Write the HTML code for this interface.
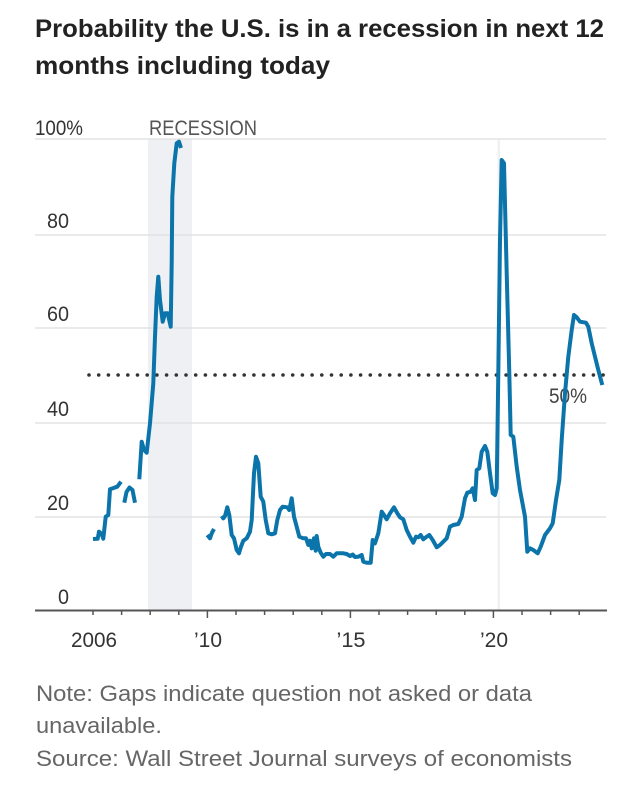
<!DOCTYPE html>
<html>
<head>
<meta charset="utf-8">
<style>
  html,body{margin:0;padding:0;background:#fff;}
  svg{display:block;}
  text{font-family:"Liberation Sans", "DejaVu Sans", sans-serif;}
</style>
</head>
<body>
<svg width="640" height="790" viewBox="0 0 640 790" xmlns="http://www.w3.org/2000/svg">
  <rect x="0" y="0" width="640" height="790" fill="#fff"/>

  <!-- Title -->
  <text x="35" y="37" font-size="25" font-weight="bold" fill="#222" textLength="569" lengthAdjust="spacingAndGlyphs">Probability the U.S. is in a recession in next 12</text>
  <text x="35" y="74" font-size="25" font-weight="bold" fill="#222" textLength="295" lengthAdjust="spacingAndGlyphs">months including today</text>

  <!-- Recession shading -->
  <rect x="148" y="139" width="44" height="471" fill="#eef0f4"/>
  <rect x="497.5" y="139" width="2.5" height="471" fill="#eef0f4"/>

  <!-- Gridlines -->
  <g stroke="#dedede" stroke-width="1.2">
    <line x1="35" y1="139" x2="606" y2="139"/>
    <line x1="35" y1="235" x2="606" y2="235"/>
    <line x1="35" y1="328" x2="606" y2="328"/>
    <line x1="35" y1="423" x2="606" y2="423"/>
    <line x1="35" y1="517" x2="606" y2="517"/>
  </g>

  <!-- Y labels -->
  <g font-size="21" fill="#333">
    <text x="35" y="135" textLength="48" lengthAdjust="spacingAndGlyphs">100%</text>
    <text x="69" y="228" text-anchor="end" textLength="22" lengthAdjust="spacingAndGlyphs">80</text>
    <text x="69" y="321" text-anchor="end" textLength="22" lengthAdjust="spacingAndGlyphs">60</text>
    <text x="69" y="416" text-anchor="end" textLength="22" lengthAdjust="spacingAndGlyphs">40</text>
    <text x="69" y="510" text-anchor="end" textLength="22" lengthAdjust="spacingAndGlyphs">20</text>
    <text x="69" y="604" text-anchor="end" textLength="11" lengthAdjust="spacingAndGlyphs">0</text>
  </g>

  <text x="149" y="135" font-size="21" fill="#555" textLength="108" lengthAdjust="spacingAndGlyphs">RECESSION</text>

  <!-- 50% dotted line -->
  <line x1="89" y1="375" x2="607" y2="375" stroke="#333" stroke-width="3.6" stroke-linecap="round" stroke-dasharray="0 9.7"/>
  <text x="549" y="403" font-size="21" fill="#444" textLength="38" lengthAdjust="spacingAndGlyphs">50%</text>

  <!-- Axis -->
  <line x1="35" y1="610.5" x2="607" y2="610.5" stroke="#555" stroke-width="2"/>
  <g stroke="#555" stroke-width="1.5">
    <line x1="93" y1="611" x2="93" y2="615"/>
    <line x1="121.6" y1="611" x2="121.6" y2="615"/>
    <line x1="150.2" y1="611" x2="150.2" y2="615"/>
    <line x1="178.8" y1="611" x2="178.8" y2="615"/>
    <line x1="207.4" y1="611" x2="207.4" y2="618"/>
    <line x1="236" y1="611" x2="236" y2="615"/>
    <line x1="264.6" y1="611" x2="264.6" y2="615"/>
    <line x1="293.2" y1="611" x2="293.2" y2="615"/>
    <line x1="321.8" y1="611" x2="321.8" y2="615"/>
    <line x1="350.4" y1="611" x2="350.4" y2="618"/>
    <line x1="379" y1="611" x2="379" y2="615"/>
    <line x1="407.6" y1="611" x2="407.6" y2="615"/>
    <line x1="436.2" y1="611" x2="436.2" y2="615"/>
    <line x1="464.8" y1="611" x2="464.8" y2="615"/>
    <line x1="493.4" y1="611" x2="493.4" y2="618"/>
    <line x1="522" y1="611" x2="522" y2="615"/>
    <line x1="550.6" y1="611" x2="550.6" y2="615"/>
    <line x1="579.2" y1="611" x2="579.2" y2="615"/>
  </g>

  <!-- X labels -->
  <g font-size="21" fill="#333" text-anchor="middle">
    <text x="94" y="647" textLength="46" lengthAdjust="spacingAndGlyphs">2006</text>
    <text x="208" y="647" textLength="28" lengthAdjust="spacingAndGlyphs">’10</text>
    <text x="351" y="647" textLength="29" lengthAdjust="spacingAndGlyphs">’15</text>
    <text x="494" y="647" textLength="28" lengthAdjust="spacingAndGlyphs">’20</text>
  </g>

  <!-- Data line -->
  <g fill="none" stroke="#0b74aa" stroke-width="4" stroke-linejoin="round" stroke-linecap="butt">
    <polyline points="93,539 97.7,538.7 99,531.7 101.7,534 103.3,538.7 105.7,516.7 108.3,515 110,489.3 114.3,487.7 117.3,486.7 121,481.7"/>
    <polyline points="124.3,502.7 126.5,492 129.5,487.5 132.5,490 135,502.7"/>
    <polyline points="139.3,479.3 141.7,441.7 144,450 146.7,452.7 150,423.3 153.3,383.3 155,336.7 156.7,296.7 158.3,276.7 160,300 162.7,321.7 165,313.3 167.7,313.3 170.7,326.7 171.7,263.3 172.3,196.7 174.3,163.3 176.7,143.3 179,141.7 181,148"/>
    <polyline points="207.3,535 210,538.3 211.7,533.3 214,529"/>
    <polyline points="221.7,516 223.3,518.3 225,516 227.3,507.3 229.3,515 231.7,535 234,538.3 236.7,550 239,553.3 241,546.7 243.3,540.7 246.7,538.3 250,531.7 251.7,520 254,473.3 256,456.7 258.3,463.3 260.7,496.7 263.3,501.7 265.7,520 268.3,533.3 271.7,534.3 275,533.3 277.3,520 280,510 282.7,506.7 287.3,507.3 289.3,510 291.7,498.3 294,516.7 296.7,526.7 299.3,536.7 303.3,538.3 306,538.3 308.3,545 310,540.7 311.7,548.3 314,538.3 315.7,550.7 316.7,536 318.3,546.7 320.7,552.7 323.3,556.7 326,554 330,554 333.3,556.7 336.7,553.3 343.3,553.3 346.7,554 350,556 352.7,554.5 355,557 358.3,556.7 361.7,555 363.3,561.7 366.7,562.7 370.7,562.7 372.7,540 375,543.3 378.3,533.3 381.7,511.7 384,515 386.7,519.3 390,513.3 394,507.3 397.3,513.3 400,517.3 403.3,519.3 406.7,530 410,536.7 413.3,542.7 416,536.7 418.3,537.3 420.7,535 423.3,539.3 426.7,536.7 429.3,535 432.7,540 436.7,547.3 440,545 443.3,541.7 446.7,538.3 450,526.7 453.3,525 458.3,524 461.7,516.7 465,498.3 467.3,492.7 470.7,491.7 472.7,488.3 475,500 476.7,470 479.3,468.3 481.7,451.7 485,446 487.3,451.7 490,473.3 492.7,493.3 495,495 496.7,488.3 498.3,373.3 500,240 501.7,160 504,163.3 506.7,273.3 509.3,373.3 510.7,435 513.3,436.7 516.7,466.7 520,490 525,516.7 527.3,551.7 530,548.3 533.3,550 537.7,553.3 540.7,546.7 545,535 550,528.3 552.7,523.3 556,500 559.3,480 561.7,440 565,393.3 568.3,356.7 571.7,330 574,315 576.7,317.3 580,321.7 586,322.7 588.3,326.7 591.7,343.3 595,356.7 598.3,370 602.3,385"/>
  </g>

  <!-- Footnotes -->
  <g font-size="22" fill="#666">
    <text x="36" y="701" textLength="496" lengthAdjust="spacingAndGlyphs">Note: Gaps indicate question not asked or data</text>
    <text x="36" y="733" textLength="126" lengthAdjust="spacingAndGlyphs">unavailable.</text>
    <text x="36" y="766" textLength="536" lengthAdjust="spacingAndGlyphs">Source: Wall Street Journal surveys of economists</text>
  </g>
</svg>
</body>
</html>
